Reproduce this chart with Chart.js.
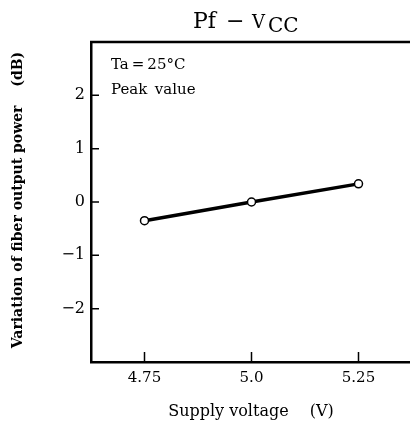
<!DOCTYPE html>
<html>
<head>
<meta charset="utf-8">
<script src="https://cdn.jsdelivr.net/npm/chart.js@4/dist/chart.umd.min.js"></script>
<style>
  html, body { margin: 0; padding: 0; background: #fff; overflow: hidden; }
  #wrap { width: 420px; height: 428px; }
</style>
</head>
<body>
<div id="wrap"><canvas id="pfChart" width="420" height="428"></canvas></div>
<script>
// data
const voltages = [4.75, 5.0, 5.25];
const variation = [-0.35, 0, 0.34];
const xTickValues = [4.75, 5.0, 5.25];
const xTickLabels = ['4.75', '5.0', '5.25'];
const yTickValues = [-2, -1, 0, 1, 2];
const notes = ['Ta\u2009=\u200925°C', 'Peak\u2002value'];

const serif = '"DejaVu Serif", "Liberation Serif", serif';

// ticks point into the plot, draw them ourselves
const inwardTicks = {
    id: 'inwardTicks',
    afterDraw(chart) {
        const ctx = chart.ctx;
        const area = chart.chartArea;
        const xs = chart.scales.x;
        const ys = chart.scales.y;
        ctx.save();
        ctx.strokeStyle = '#000';
        ctx.lineWidth = 1.5;
        ctx.beginPath();
        yTickValues.forEach(v => {
            let py = ys.getPixelForValue(v);
            ctx.moveTo(area.left, py);
            ctx.lineTo(area.left + 8, py);
        });
        xTickValues.forEach(v => {
            let px = xs.getPixelForValue(v);
            ctx.moveTo(px, area.bottom);
            ctx.lineTo(px, area.bottom - 10);
        });
        ctx.stroke();

        // top frame line
        ctx.lineWidth = 2.5;
        ctx.beginPath();
        ctx.moveTo(area.left - 1, area.top);
        ctx.lineTo(area.right, area.top);
        ctx.stroke();
        ctx.restore();
    }
};

const labelsPlugin = {
    id: 'labelsPlugin',
    afterDraw(chart) {
        const ctx = chart.ctx;
        const area = chart.chartArea;
        ctx.save();
        ctx.fillStyle = '#000';
        ctx.textBaseline = 'alphabetic';
        ctx.textAlign = 'left';

        // title "Pf − Vcc", the CC part sits lower
        ctx.font = '22px ' + serif;
        ctx.fillText('Pf', 193, 28);
        ctx.fillText('\u2212', 226, 28);
        ctx.font = '18px ' + serif;
        ctx.fillText('V', 252, 28);
        ctx.font = '20px ' + serif;
        ctx.fillText('CC', 268, 32);

        // notes inside plot
        ctx.font = '15px ' + serif;
        ctx.textBaseline = 'middle';
        ctx.fillText(notes[0], area.left + 20, 65);
        ctx.fillText(notes[1], area.left + 20, 90);

        // x axis title
        ctx.textAlign = 'center';
        ctx.font = '16px ' + serif;
        ctx.fillText('Supply voltage\u2003 (V)', 251, 412);

        // y axis title
        ctx.translate(18, 200);
        ctx.rotate(-Math.PI / 2);
        ctx.font = 'bold 14px ' + serif;
        ctx.fillText('Variation of fiber output power\u2003 (dB)', 0, 0);
        ctx.restore();
    }
};

const ctx = document.getElementById('pfChart').getContext('2d');
const pfChart = new Chart(ctx, {
    type: 'line',
    data: {
        datasets: [{
            data: voltages.map((v, i) => ({x: v, y: variation[i]})),
            borderColor: '#000',
            borderWidth: 3.5,
            pointRadius: 4,
            pointBorderWidth: 1.5,
            pointBackgroundColor: '#fff',
            pointBorderColor: '#000',
            tension: 0,
        }]
    },
    options: {
        responsive: false,
        animation: false,
        layout: {
            padding: {left: 0, right: 8, top: 42, bottom: 0}
        },
        plugins: {
            legend: {display: false},
            tooltip: {enabled: false},
        },
        scales: {
            x: {
                type: 'linear',
                min: 4.625,
                max: 5.375,
                afterBuildTicks(scale) {
                    scale.ticks = xTickValues.map(v => ({value: v}));
                },
                afterFit(scale) {
                    scale.height = 66;
                },
                grid: {display: false, drawTicks: false},
                border: {display: true, color: '#000', width: 2.5},
                ticks: {
                    color: '#000',
                    padding: 7,
                    maxRotation: 0,
                    font: {family: serif, size: 15},
                    callback: function (value) {
                        let i = xTickValues.indexOf(value);
                        return i >= 0 ? xTickLabels[i] : '';
                    }
                }
            },
            y: {
                type: 'linear',
                min: -3,
                max: 3,
                afterBuildTicks(scale) {
                    scale.ticks = yTickValues.map(v => ({value: v}));
                },
                afterFit(scale) {
                    scale.width = 91;
                },
                grid: {display: false, drawTicks: false},
                border: {display: true, color: '#000', width: 2.5},
                ticks: {
                    color: '#000',
                    padding: 6,
                    font: {family: serif, size: 16},
                    callback: function (value) {
                        return value < 0 ? '\u2212' + Math.abs(value) : String(value);
                    }
                }
            }
        }
    },
    plugins: [inwardTicks, labelsPlugin]
});
</script>
</body>
</html>
